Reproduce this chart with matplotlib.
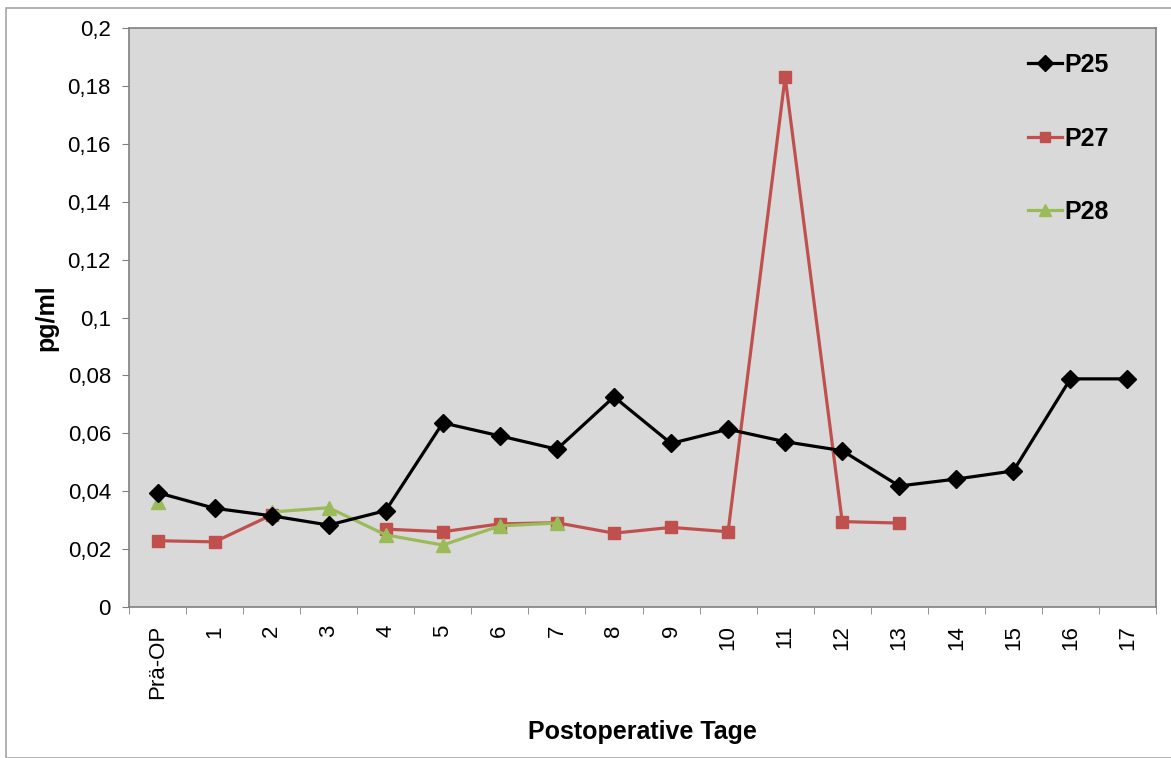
import matplotlib.pyplot as plt
from matplotlib.patches import Rectangle
import numpy as np

plt.rcParams['font.family'] = ['Liberation Sans', 'DejaVu Sans']

tage = ['Prä-OP', '1', '2', '3', '4', '5', '6', '7', '8', '9', '10',
        '11', '12', '13', '14', '15', '16', '17']
nan = np.nan
p25 = [0.0395, 0.0341, 0.0315, 0.0283, 0.0333, 0.0636, 0.0591, 0.0545, 0.0726,
       0.0565, 0.0614, 0.0571, 0.0540, 0.0418, 0.0442, 0.0470, 0.0788, 0.0788]
p27 = [0.0229, 0.0225, 0.0318, nan, 0.0269, 0.0260, 0.0287, 0.0291, 0.0255,
       0.0275, 0.0260, 0.1831, 0.0295, 0.0290, nan, nan, nan, nan]
p28 = [0.0363, nan, 0.0328, 0.0343, 0.0249, 0.0214, 0.0280, 0.0290,
       nan, nan, nan, nan, nan, nan, nan, nan, nan, nan]

W, H = 1171, 758
fig = plt.figure(figsize=(W / 100, H / 100), dpi=100)
ax = fig.add_axes([129 / W, 1 - 607 / H, (1156 - 129) / W, (607 - 28) / H])
ax.set_facecolor('#D9D9D9')

# Rahmen um das ganze Diagramm
fig.patches.append(Rectangle((6 / W, 0), 1.2, 1 - 8 / H, transform=fig.transFigure,
                             fill=False, edgecolor='#A6A6A6', lw=1.2))

x = np.arange(len(tage))
ax.plot(x, p25, color='black', lw=2.3, marker='D', ms=9, label='P25', zorder=4)
ax.plot(x, p27, color='#C0504D', lw=2.3, marker='s', ms=8.5, label='P27', zorder=3)
ax.plot(x, p28, color='#9BBB59', lw=2.3, marker='^', ms=9.5, label='P28', zorder=3)

ax.set_xlim(-0.5, len(tage) - 0.5)
ax.set_ylim(0, 0.2)
ax.set_yticks(np.arange(0, 0.201, 0.02))
ax.set_yticklabels(['0'] + [('%g' % v).replace('.', ',') for v in np.arange(0.02, 0.201, 0.02)])
ax.set_xticks(x)
ax.set_xticklabels(tage, rotation=90, va='top')
ax.set_xticks(np.arange(-0.5, len(tage), 1), minor=True)
ax.tick_params(axis='x', which='major', length=0, pad=13, labelsize=16)
ax.tick_params(axis='x', which='minor', length=5, color='#808080')
ax.tick_params(axis='y', length=5, color='#808080', labelsize=16, pad=8)

for s in ax.spines.values():
    s.set_color('#808080')
    s.set_linewidth(1.2)

ax.set_xlabel('Postoperative Tage', fontsize=18, fontweight='bold', labelpad=15)
ax.set_ylabel('pg/ml', fontsize=18, fontweight='bold', labelpad=7)

ax.legend(loc='upper left', bbox_to_anchor=((1028 - 129) / 1027, (607 - 53) / 579),
          frameon=False, borderpad=0, borderaxespad=0,
          prop={'size': 18, 'weight': 'bold'}, labelspacing=1.98,
          handlelength=1.35, handletextpad=0.1, markerscale=0.85)

fig.savefig('out.png', dpi=100)
